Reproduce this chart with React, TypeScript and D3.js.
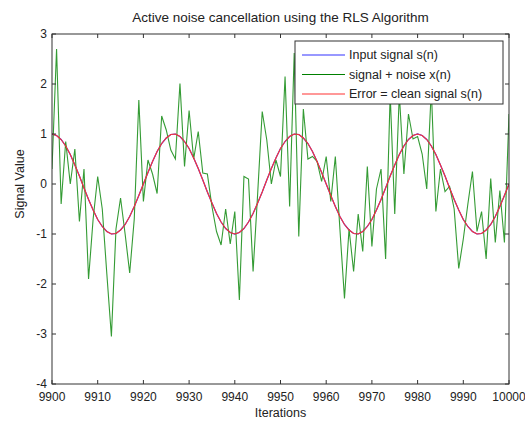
import React from 'react';
import * as d3 from 'd3';

const iterations = d3.range(9900, 10001);

// clean sine (one value per iteration)
const cleanSignal = [
  1.0, 0.97, 0.89, 0.76, 0.59, 0.38, 0.16, -0.08, -0.31, -0.52,
  -0.71, -0.85, -0.95, -1.0, -0.99, -0.92, -0.81, -0.65, -0.45, -0.23,
  0.0, 0.23, 0.45, 0.65, 0.81, 0.92, 0.99, 1.0, 0.95, 0.85,
  0.71, 0.52, 0.31, 0.08, -0.16, -0.38, -0.59, -0.76, -0.89, -0.97,
  -1.0, -0.97, -0.89, -0.76, -0.59, -0.38, -0.16, 0.08, 0.31, 0.52,
  0.71, 0.85, 0.95, 1.0, 0.99, 0.92, 0.81, 0.65, 0.45, 0.23,
  0.0, -0.23, -0.45, -0.65, -0.81, -0.92, -0.99, -1.0, -0.95, -0.85,
  -0.71, -0.52, -0.31, -0.08, 0.16, 0.38, 0.59, 0.76, 0.89, 0.97,
  1.0, 0.97, 0.89, 0.76, 0.59, 0.38, 0.16, -0.08, -0.31, -0.52,
  -0.71, -0.85, -0.95, -1.0, -0.99, -0.92, -0.81, -0.65, -0.45, -0.23,
  0.0,
];
const errorSignal = cleanSignal;

const noisySignal = [
  0.3, 2.7, -0.4, 0.85, 0.0, 0.7, -0.75, 0.3, -1.9, -0.7,
  0.15, -0.5, -1.8, -3.05, -0.9, -0.28, -1.0, -1.78, -0.7, 1.68,
  -0.35, 0.48, 0.2, -0.19, 1.36, 1.08, 0.68, 0.5, 2.01, 0.35,
  1.47, 0.5, 1.05, 0.22, 0.2, -0.45, -0.95, -1.22, -0.5, -1.2,
  -0.55, -2.32, 0.15, 0.1, -1.75, -0.2, 1.45, 0.88, 0.0, 0.48,
  0.15, 2.15, -0.45, 2.62, -1.05, 1.5, 0.5, 0.55, 0.45, 0.05,
  0.55, -0.35, 0.55, -0.9, -2.29, -0.9, -1.75, -0.6, -1.35, 0.35,
  -1.25, -0.1, 0.3, -1.5, 1.8, -0.6, 1.8, 0.2, 1.4, 0.9,
  0.95, 0.6, -0.1, 1.9, -0.55, 0.3, -0.15, -0.05, -0.5, -1.69,
  -1.1, -0.4, 0.25, -0.95, -0.55, -1.5, 0.11, -1.17, -0.13, -1.17,
  1.4,
];

const xTicks = d3.range(9900, 10001, 10);
const yTicks = d3.range(-4, 4, 1);

const legendItems = [
  { label: 'Input signal s(n)', color: '#3333ff' },
  { label: 'signal + noise x(n)', color: '#008000' },
  { label: 'Error = clean signal s(n)', color: '#ff3333' },
];

const W = 525;
const H = 421;
const left = 52, right = 509, top = 34, bottom = 384;
const font = '"Liberation Sans", Arial, Helvetica, sans-serif';

export default function App() {
  const x = d3.scaleLinear().domain([9900, 10000]).range([left, right]);
  const y = d3.scaleLinear().domain([-4, 3]).range([bottom, top]);

  const line = (vals: number[]) =>
    d3.line<number>()
      .x((_, i) => x(iterations[i]))
      .y(d => y(d))(vals) || '';

  const tk = 4;

  return (
    <svg width={W} height={H} style={{ position: 'absolute', left: 0, top: 0, background: '#fff' }}
      fontFamily={font}>
      <rect x={0} y={0} width={W} height={H} fill="#fff" />
      <defs>
        <clipPath id="plot">
          <rect x={left} y={top} width={right - left} height={bottom - top} />
        </clipPath>
      </defs>

      <g clipPath="url(#plot)" fill="none">
        <path d={line(cleanSignal)} stroke="#3333ff" strokeWidth={1.2} />
        <path d={line(noisySignal)} stroke="#108a10" strokeWidth={1.1} strokeOpacity={0.85} />
        <path d={line(errorSignal)} stroke="#ff3333" strokeWidth={1.1} />
      </g>

      {/* axes box */}
      <rect x={left} y={top} width={right - left} height={bottom - top} fill="none" stroke="#333" strokeWidth={1} />

      {xTicks.map(t => (
        <g key={'x' + t}>
          <line x1={x(t)} x2={x(t)} y1={bottom} y2={bottom - tk} stroke="#333" />
          <line x1={x(t)} x2={x(t)} y1={top} y2={top + tk} stroke="#333" />
          <text x={x(t)} y={bottom + 17} fontSize={12} textAnchor="middle" fill="#222">{t}</text>
        </g>
      ))}
      {yTicks.map(t => (
        <g key={'y' + t}>
          <line x1={left} x2={left + tk} y1={y(t)} y2={y(t)} stroke="#333" />
          <line x1={right} x2={right - tk} y1={y(t)} y2={y(t)} stroke="#333" />
          <text x={left - 5} y={y(t) + 4} fontSize={12} textAnchor="end" fill="#222">{t}</text>
        </g>
      ))}

      <text x={(left + right) / 2} y={22} fontSize={13.5} textAnchor="middle" fill="#222">
        Active noise cancellation using the RLS Algorithm
      </text>
      <text x={(left + right) / 2} y={417} fontSize={12.5} textAnchor="middle" fill="#222">Iterations</text>
      <text transform={`translate(24, 184) rotate(-90)`} fontSize={12.5} textAnchor="middle" fill="#222">
        Signal Value
      </text>

      {/* legend */}
      <g>
        <rect x={295} y={41} width={208} height={63} fill="#fff" stroke="#333" strokeWidth={1} />
        {legendItems.map((d, i) => (
          <g key={d.label}>
            <line x1={302} x2={345} y1={55 + i * 19.5} y2={55 + i * 19.5} stroke={d.color} strokeWidth={1.2} />
            <text x={349} y={59 + i * 19.5} fontSize={12.5} fill="#222">{d.label}</text>
          </g>
        ))}
      </g>
    </svg>
  );
}
